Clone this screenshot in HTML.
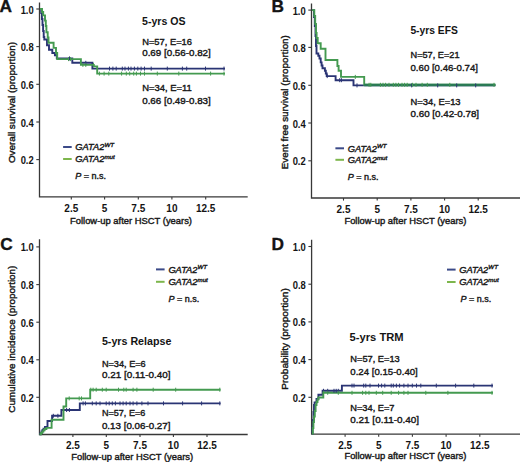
<!DOCTYPE html>
<html><head><meta charset="utf-8"><title>GATA2 survival curves</title>
<style>
html,body{margin:0;padding:0;background:#fff;width:520px;height:462px;overflow:hidden}
svg{display:block}
text{font-family:"Liberation Sans", sans-serif}
text.r{stroke:#1a1a1a;stroke-width:0.4px}
</style></head>
<body>
<svg width="520" height="462" viewBox="0 0 520 462">
<rect width="520" height="462" fill="#fff"/>
<text x="-0.6" y="12.3" font-size="17.3" font-weight="bold" font-style="normal" text-anchor="start" fill="#141414" stroke="#141414" stroke-width="0.35">A</text>
<path d="M39.5,2.4 V196.9 H247.7" fill="none" stroke="#383838" stroke-width="1.3"/>
<path d="M36.3,9.0 H39.5" stroke="#383838" stroke-width="1.1"/>
<text x="33.7" y="13.5" font-size="10.0" font-weight="bold" font-style="normal" text-anchor="end" fill="#141414" textLength="13.07" lengthAdjust="spacingAndGlyphs">1.0</text>
<path d="M36.3,46.6 H39.5" stroke="#383838" stroke-width="1.1"/>
<text x="33.7" y="51.1" font-size="10.0" font-weight="bold" font-style="normal" text-anchor="end" fill="#141414" textLength="13.07" lengthAdjust="spacingAndGlyphs">0.8</text>
<path d="M36.3,84.3 H39.5" stroke="#383838" stroke-width="1.1"/>
<text x="33.7" y="88.8" font-size="10.0" font-weight="bold" font-style="normal" text-anchor="end" fill="#141414" textLength="13.07" lengthAdjust="spacingAndGlyphs">0.6</text>
<path d="M36.3,122.0 H39.5" stroke="#383838" stroke-width="1.1"/>
<text x="33.7" y="126.5" font-size="10.0" font-weight="bold" font-style="normal" text-anchor="end" fill="#141414" textLength="13.07" lengthAdjust="spacingAndGlyphs">0.4</text>
<path d="M36.3,159.6 H39.5" stroke="#383838" stroke-width="1.1"/>
<text x="33.7" y="164.1" font-size="10.0" font-weight="bold" font-style="normal" text-anchor="end" fill="#141414" textLength="13.07" lengthAdjust="spacingAndGlyphs">0.2</text>
<path d="M71.3,196.9 V199.5" stroke="#383838" stroke-width="1.1"/>
<text x="71.3" y="212.0" font-size="10" font-weight="bold" font-style="normal" text-anchor="middle" fill="#141414">2.5</text>
<path d="M104.6,196.9 V199.5" stroke="#383838" stroke-width="1.1"/>
<text x="104.6" y="212.0" font-size="10" font-weight="bold" font-style="normal" text-anchor="middle" fill="#141414">5</text>
<path d="M138.3,196.9 V199.5" stroke="#383838" stroke-width="1.1"/>
<text x="138.3" y="212.0" font-size="10" font-weight="bold" font-style="normal" text-anchor="middle" fill="#141414">7.5</text>
<path d="M171.9,196.9 V199.5" stroke="#383838" stroke-width="1.1"/>
<text x="171.9" y="212.0" font-size="10" font-weight="bold" font-style="normal" text-anchor="middle" fill="#141414">10</text>
<path d="M205.7,196.9 V199.5" stroke="#383838" stroke-width="1.1"/>
<text x="205.7" y="212.0" font-size="10" font-weight="bold" font-style="normal" text-anchor="middle" fill="#141414">12.5</text>
<text class="r" x="70.0" y="223.6" font-size="9.4" font-weight="normal" font-style="normal" text-anchor="start" fill="#141414" textLength="122" lengthAdjust="spacingAndGlyphs">Follow-up after HSCT (years)</text>
<text class="r" transform="translate(14.9,102.6) rotate(-90)" x="0" y="0" font-size="9.8" text-anchor="middle" fill="#141414" textLength="121" lengthAdjust="spacingAndGlyphs">Overall survival (proportion)</text>
<path d="M40,9 H41.2 V13 H41.9 V19 H42.5 V25 H43.1 V31 H43.7 V37 H44.3 V39.5 H47 V45.3 H49 V49.8 H52.3 V53 H54.9 V55.2 H56.8 V58.4 H72.3 V62.8 H92.4 V68.6 H225" fill="none" stroke="#2a3474" stroke-width="1.9" stroke-linejoin="miter"/>
<path d="M40,9 H42 V12 H43.2 V15.4 H45 V20.6 H45.8 V26 H46.4 V32.3 H47.7 V37.5 H48.5 V42.7 H53.6 V47.9 H56 V53 H57.2 V59.1 H80.9 V64.9 H93.8 V66.4 H97.2 V73.6 H225" fill="none" stroke="#449a50" stroke-width="1.9" stroke-linejoin="miter"/>
<path d="M69.5,56.4V60.4 M85.8,60.8V64.8 M109.5,66.6V70.6 M112.9,66.6V70.6 M116.2,66.6V70.6 M122.3,66.6V70.6 M125,66.6V70.6 M128.4,66.6V70.6 M131,66.6V70.6 M134.4,66.6V70.6 M137.8,66.6V70.6 M141.1,66.6V70.6 M144.5,66.6V70.6 M151.2,66.6V70.6 M167.3,66.6V70.6 M182.4,66.6V70.6 M186.7,66.6V70.6 M205.5,66.6V70.6 M224,66.6V70.6" stroke="#2a3474" stroke-width="1.0"/>
<path d="M68.5,57.1V61.1 M70.4,57.1V61.1 M82.9,62.900000000000006V66.9 M85.8,62.900000000000006V66.9 M93.5,62.900000000000006V66.9 M99.4,71.6V75.6 M104.1,71.6V75.6 M108.8,71.6V75.6 M121.6,71.6V75.6 M126.3,71.6V75.6 M129.7,71.6V75.6 M133.7,71.6V75.6 M136.4,71.6V75.6 M140.5,71.6V75.6 M144.5,71.6V75.6 M157.3,71.6V75.6 M178.8,71.6V75.6 M210.6,71.6V75.6 M224,71.6V75.6" stroke="#449a50" stroke-width="1.0"/>
<text x="142.0" y="25.4" font-size="10.6" font-weight="bold" font-style="normal" text-anchor="start" fill="#141414" textLength="43.5" lengthAdjust="spacingAndGlyphs">5-yrs OS</text>
<text class="r" x="142.2" y="45.1" font-size="9.6" font-weight="normal" font-style="normal" text-anchor="start" fill="#141414" textLength="49.8" lengthAdjust="spacingAndGlyphs">N=57, E=16</text>
<text class="r" x="142.2" y="56.2" font-size="9.6" font-weight="normal" font-style="normal" text-anchor="start" fill="#141414" textLength="68.6" lengthAdjust="spacingAndGlyphs">0.69 [0.56-0.82]</text>
<text class="r" x="142.2" y="91.2" font-size="9.6" font-weight="normal" font-style="normal" text-anchor="start" fill="#141414" textLength="49.5" lengthAdjust="spacingAndGlyphs">N=34, E=11</text>
<text class="r" x="142.2" y="104.2" font-size="9.6" font-weight="normal" font-style="normal" text-anchor="start" fill="#141414" textLength="68.6" lengthAdjust="spacingAndGlyphs">0.66 [0.49-0.83]</text>
<path d="M63.1,147.0 h8.6" stroke="#3b4a88" stroke-width="2"/>
<path d="M63.1,159.0 h8.6" stroke="#7db64c" stroke-width="2"/>
<text class="r" x="75.3" y="150.3" font-size="9.3" font-style="italic" fill="#141414">GATA2<tspan font-size="6.2" dy="-3.6">WT</tspan></text>
<text class="r" x="75.3" y="162.3" font-size="9.3" font-style="italic" fill="#141414">GATA2<tspan font-size="6.2" dy="-3.6">mut</tspan></text>
<text class="r" x="75.3" y="178.9" font-size="9" fill="#141414"><tspan font-style="italic">P</tspan> = n.s.</text>
<text x="271.6" y="12.4" font-size="17.3" font-weight="bold" font-style="normal" text-anchor="start" fill="#141414" stroke="#141414" stroke-width="0.35">B</text>
<path d="M311.5,3.5 V198.0 H520" fill="none" stroke="#383838" stroke-width="1.3"/>
<path d="M308.3,10.1 H311.5" stroke="#383838" stroke-width="1.1"/>
<text x="305.7" y="14.6" font-size="10.0" font-weight="bold" font-style="normal" text-anchor="end" fill="#141414" textLength="13.07" lengthAdjust="spacingAndGlyphs">1.0</text>
<path d="M308.3,47.4 H311.5" stroke="#383838" stroke-width="1.1"/>
<text x="305.7" y="51.9" font-size="10.0" font-weight="bold" font-style="normal" text-anchor="end" fill="#141414" textLength="13.07" lengthAdjust="spacingAndGlyphs">0.8</text>
<path d="M308.3,85.3 H311.5" stroke="#383838" stroke-width="1.1"/>
<text x="305.7" y="89.8" font-size="10.0" font-weight="bold" font-style="normal" text-anchor="end" fill="#141414" textLength="13.07" lengthAdjust="spacingAndGlyphs">0.6</text>
<path d="M308.3,123.0 H311.5" stroke="#383838" stroke-width="1.1"/>
<text x="305.7" y="127.5" font-size="10.0" font-weight="bold" font-style="normal" text-anchor="end" fill="#141414" textLength="13.07" lengthAdjust="spacingAndGlyphs">0.4</text>
<path d="M308.3,160.8 H311.5" stroke="#383838" stroke-width="1.1"/>
<text x="305.7" y="165.3" font-size="10.0" font-weight="bold" font-style="normal" text-anchor="end" fill="#141414" textLength="13.07" lengthAdjust="spacingAndGlyphs">0.2</text>
<path d="M343.5,198.0 V200.6" stroke="#383838" stroke-width="1.1"/>
<text x="343.5" y="213.1" font-size="10" font-weight="bold" font-style="normal" text-anchor="middle" fill="#141414">2.5</text>
<path d="M377.2,198.0 V200.6" stroke="#383838" stroke-width="1.1"/>
<text x="377.2" y="213.1" font-size="10" font-weight="bold" font-style="normal" text-anchor="middle" fill="#141414">5</text>
<path d="M410.9,198.0 V200.6" stroke="#383838" stroke-width="1.1"/>
<text x="410.9" y="213.1" font-size="10" font-weight="bold" font-style="normal" text-anchor="middle" fill="#141414">7.5</text>
<path d="M444.6,198.0 V200.6" stroke="#383838" stroke-width="1.1"/>
<text x="444.6" y="213.1" font-size="10" font-weight="bold" font-style="normal" text-anchor="middle" fill="#141414">10</text>
<path d="M478.2,198.0 V200.6" stroke="#383838" stroke-width="1.1"/>
<text x="478.2" y="213.1" font-size="10" font-weight="bold" font-style="normal" text-anchor="middle" fill="#141414">12.5</text>
<text class="r" x="344.4" y="224.3" font-size="9.4" font-weight="normal" font-style="normal" text-anchor="start" fill="#141414" textLength="122" lengthAdjust="spacingAndGlyphs">Follow-up after HSCT (years)</text>
<text class="r" transform="translate(288.2,102.2) rotate(-90)" x="0" y="0" font-size="9.8" text-anchor="middle" fill="#141414" textLength="134" lengthAdjust="spacingAndGlyphs">Event free survival (proportion)</text>
<path d="M312,10.1 H314 V17 H314.8 V26 H315.5 V36 H316 V46 H316.5 V53.5 H318.3 V55.8 H319.5 V58.5 H320.7 V62.4 H321.6 V65.5 H322.5 V68.3 H324.9 V70.7 H325.8 V73.5 H326.7 V76.1 H335.6 V80.2 H353.5 V85.4 H495.4" fill="none" stroke="#2a3474" stroke-width="1.9" stroke-linejoin="miter"/>
<path d="M312,10.1 H314.3 V16 H315.2 V24 H316 V33 H316.6 V38 H317.7 V43.3 H320.7 V48.7 H325.5 V60 H337.4 V66 H338.6 V70.7 H341 V76.9 H364.2 V84.8 H495.4" fill="none" stroke="#449a50" stroke-width="1.9" stroke-linejoin="miter"/>
<path d="M364.2,84.95 H495.4" stroke="#2a7a55" stroke-width="2.4" fill="none"/>
<path d="M327.2,74.1V78.1 M339.7,78.2V82.2 M341.4,78.2V82.2 M357,83.4V87.4 M411.7,83.4V87.4 M437.7,83.4V87.4 M456.7,83.4V87.4 M475.7,83.4V87.4" stroke="#2a3474" stroke-width="1.0"/>
<path d="M355.3,74.9V78.9 M369.1,82.8V86.8 M370.8,82.8V86.8 M380.4,82.8V86.8 M383,82.8V86.8 M385.6,82.8V86.8 M389,82.8V86.8 M393.3,82.8V86.8 M395.9,82.8V86.8 M398.5,82.8V86.8 M402,82.8V86.8 M404.6,82.8V86.8 M407.2,82.8V86.8 M412.4,82.8V86.8 M416,82.8V86.8 M422.1,82.8V86.8 M427.3,82.8V86.8 M449.8,82.8V86.8 M494,82.8V86.8" stroke="#449a50" stroke-width="1.0"/>
<text x="410.4" y="34.0" font-size="10.6" font-weight="bold" font-style="normal" text-anchor="start" fill="#141414" textLength="47.5" lengthAdjust="spacingAndGlyphs">5-yrs EFS</text>
<text class="r" x="410.5" y="57.8" font-size="9.6" font-weight="normal" font-style="normal" text-anchor="start" fill="#141414" textLength="49.0" lengthAdjust="spacingAndGlyphs">N=57, E=21</text>
<text class="r" x="410.5" y="71.0" font-size="9.6" font-weight="normal" font-style="normal" text-anchor="start" fill="#141414" textLength="67.5" lengthAdjust="spacingAndGlyphs">0.60 [0.46-0.74]</text>
<text class="r" x="410.6" y="105.0" font-size="9.6" font-weight="normal" font-style="normal" text-anchor="start" fill="#141414" textLength="50.0" lengthAdjust="spacingAndGlyphs">N=34, E=13</text>
<text class="r" x="410.6" y="117.2" font-size="9.6" font-weight="normal" font-style="normal" text-anchor="start" fill="#141414" textLength="68.5" lengthAdjust="spacingAndGlyphs">0.60 [0.42-0.78]</text>
<path d="M335.4,148.3 h8.6" stroke="#3b4a88" stroke-width="2"/>
<path d="M335.4,159.8 h8.6" stroke="#7db64c" stroke-width="2"/>
<text class="r" x="347.8" y="151.60000000000002" font-size="9.3" font-style="italic" fill="#141414">GATA2<tspan font-size="6.2" dy="-3.6">WT</tspan></text>
<text class="r" x="347.8" y="163.10000000000002" font-size="9.3" font-style="italic" fill="#141414">GATA2<tspan font-size="6.2" dy="-3.6">mut</tspan></text>
<text class="r" x="347.8" y="180.4" font-size="9" fill="#141414"><tspan font-style="italic">P</tspan> = n.s.</text>
<text x="0.3" y="250.0" font-size="17.3" font-weight="bold" font-style="normal" text-anchor="start" fill="#141414" stroke="#141414" stroke-width="0.35">C</text>
<path d="M39.5,239.2 V434.5 H247.7" fill="none" stroke="#383838" stroke-width="1.3"/>
<path d="M36.3,246.9 H39.5" stroke="#383838" stroke-width="1.1"/>
<text x="33.7" y="251.4" font-size="10.0" font-weight="bold" font-style="normal" text-anchor="end" fill="#141414" textLength="13.07" lengthAdjust="spacingAndGlyphs">1.0</text>
<path d="M36.3,284.6 H39.5" stroke="#383838" stroke-width="1.1"/>
<text x="33.7" y="289.1" font-size="10.0" font-weight="bold" font-style="normal" text-anchor="end" fill="#141414" textLength="13.07" lengthAdjust="spacingAndGlyphs">0.8</text>
<path d="M36.3,322.2 H39.5" stroke="#383838" stroke-width="1.1"/>
<text x="33.7" y="326.7" font-size="10.0" font-weight="bold" font-style="normal" text-anchor="end" fill="#141414" textLength="13.07" lengthAdjust="spacingAndGlyphs">0.6</text>
<path d="M36.3,359.8 H39.5" stroke="#383838" stroke-width="1.1"/>
<text x="33.7" y="364.3" font-size="10.0" font-weight="bold" font-style="normal" text-anchor="end" fill="#141414" textLength="13.07" lengthAdjust="spacingAndGlyphs">0.4</text>
<path d="M36.3,397.3 H39.5" stroke="#383838" stroke-width="1.1"/>
<text x="33.7" y="401.8" font-size="10.0" font-weight="bold" font-style="normal" text-anchor="end" fill="#141414" textLength="13.07" lengthAdjust="spacingAndGlyphs">0.2</text>
<path d="M72.9,434.5 V437.1" stroke="#383838" stroke-width="1.1"/>
<text x="72.9" y="449.1" font-size="10" font-weight="bold" font-style="normal" text-anchor="middle" fill="#141414">2.5</text>
<path d="M106.3,434.5 V437.1" stroke="#383838" stroke-width="1.1"/>
<text x="106.3" y="449.1" font-size="10" font-weight="bold" font-style="normal" text-anchor="middle" fill="#141414">5</text>
<path d="M140.0,434.5 V437.1" stroke="#383838" stroke-width="1.1"/>
<text x="140.0" y="449.1" font-size="10" font-weight="bold" font-style="normal" text-anchor="middle" fill="#141414">7.5</text>
<path d="M173.4,434.5 V437.1" stroke="#383838" stroke-width="1.1"/>
<text x="173.4" y="449.1" font-size="10" font-weight="bold" font-style="normal" text-anchor="middle" fill="#141414">10</text>
<path d="M207.0,434.5 V437.1" stroke="#383838" stroke-width="1.1"/>
<text x="207.0" y="449.1" font-size="10" font-weight="bold" font-style="normal" text-anchor="middle" fill="#141414">12.5</text>
<text class="r" x="71.2" y="460.2" font-size="9.4" font-weight="normal" font-style="normal" text-anchor="start" fill="#141414" textLength="122" lengthAdjust="spacingAndGlyphs">Follow-up after HSCT (years)</text>
<text class="r" transform="translate(15.2,339.2) rotate(-90)" x="0" y="0" font-size="9.8" text-anchor="middle" fill="#141414" textLength="147" lengthAdjust="spacingAndGlyphs">Cumulative incidence (proportion)</text>
<path d="M39.5,434.3 H40.5 V433 H41.5 V431.5 H42.5 V430 H43.5 V428.6 H45 V427 H47.5 V421 H52.1 V415.8 H61.4 V410 H79.8 V403.4 H220.6" fill="none" stroke="#2a3474" stroke-width="1.9" stroke-linejoin="miter"/>
<path d="M39.5,434.3 H41 V433 H42.2 V431.6 H43.4 V430.2 H44.6 V429 H46.4 V427.9 H51.6 V419.8 H63.5 V406.5 H66.2 V398.4 H90.2 V389.7 H220.6" fill="none" stroke="#449a50" stroke-width="1.9" stroke-linejoin="miter"/>
<path d="M53.3,413.8V417.8 M57.9,413.8V417.8 M66.6,408.0V412.0 M69.4,408.0V412.0 M83.1,401.4V405.4 M85.4,401.4V405.4 M92.3,401.4V405.4 M96.2,401.4V405.4 M100,401.4V405.4 M106.2,401.4V405.4 M109.2,401.4V405.4 M112.3,401.4V405.4 M115.4,401.4V405.4 M120,401.4V405.4 M123.1,401.4V405.4 M126.2,401.4V405.4 M130,401.4V405.4 M133.1,401.4V405.4 M136.9,401.4V405.4 M141.9,401.4V405.4 M148,401.4V405.4 M163.5,401.4V405.4 M182.6,401.4V405.4 M201.6,401.4V405.4 M219.8,401.4V405.4" stroke="#2a3474" stroke-width="1.0"/>
<path d="M69.2,396.4V400.4 M79.2,396.4V400.4 M81.5,396.4V400.4 M90.8,387.7V391.7 M93.1,387.7V391.7 M96.2,387.7V391.7 M102.3,387.7V391.7 M106.2,387.7V391.7 M118.5,387.7V391.7 M123.8,387.7V391.7 M126.2,387.7V391.7 M133.1,387.7V391.7 M136.9,387.7V391.7 M153.2,387.7V391.7 M175.7,387.7V391.7 M219.8,387.7V391.7" stroke="#449a50" stroke-width="1.0"/>
<text x="101.9" y="345.2" font-size="10.6" font-weight="bold" font-style="normal" text-anchor="start" fill="#141414" textLength="69.5" lengthAdjust="spacingAndGlyphs">5-yrs Relapse</text>
<text class="r" x="101.9" y="367.2" font-size="9.6" font-weight="normal" font-style="normal" text-anchor="start" fill="#141414" textLength="43.8" lengthAdjust="spacingAndGlyphs">N=34, E=6</text>
<text class="r" x="101.9" y="377.6" font-size="9.6" font-weight="normal" font-style="normal" text-anchor="start" fill="#141414" textLength="68.6" lengthAdjust="spacingAndGlyphs">0.21 [0.11-0.40]</text>
<text class="r" x="101.9" y="416.2" font-size="9.6" font-weight="normal" font-style="normal" text-anchor="start" fill="#141414" textLength="43.4" lengthAdjust="spacingAndGlyphs">N=57, E=6</text>
<text class="r" x="101.9" y="429.2" font-size="9.6" font-weight="normal" font-style="normal" text-anchor="start" fill="#141414" textLength="68.6" lengthAdjust="spacingAndGlyphs">0.13 [0.06-0.27]</text>
<path d="M156.0,269.4 h8.6" stroke="#3b4a88" stroke-width="2"/>
<path d="M156.0,281.8 h8.6" stroke="#7db64c" stroke-width="2"/>
<text class="r" x="168.4" y="272.7" font-size="9.3" font-style="italic" fill="#141414">GATA2<tspan font-size="6.2" dy="-3.6">WT</tspan></text>
<text class="r" x="168.4" y="285.1" font-size="9.3" font-style="italic" fill="#141414">GATA2<tspan font-size="6.2" dy="-3.6">mut</tspan></text>
<text class="r" x="168.4" y="301.5" font-size="9" fill="#141414"><tspan font-style="italic">P</tspan> = n.s.</text>
<text x="271.4" y="249.6" font-size="17.3" font-weight="bold" font-style="normal" text-anchor="start" fill="#141414" stroke="#141414" stroke-width="0.35">D</text>
<path d="M311.6,239.7 V434.2 H520" fill="none" stroke="#383838" stroke-width="1.3"/>
<path d="M308.40000000000003,246.5 H311.6" stroke="#383838" stroke-width="1.1"/>
<text x="305.8" y="251.0" font-size="10.0" font-weight="bold" font-style="normal" text-anchor="end" fill="#141414" textLength="13.07" lengthAdjust="spacingAndGlyphs">1.0</text>
<path d="M308.40000000000003,284.2 H311.6" stroke="#383838" stroke-width="1.1"/>
<text x="305.8" y="288.7" font-size="10.0" font-weight="bold" font-style="normal" text-anchor="end" fill="#141414" textLength="13.07" lengthAdjust="spacingAndGlyphs">0.8</text>
<path d="M308.40000000000003,321.9 H311.6" stroke="#383838" stroke-width="1.1"/>
<text x="305.8" y="326.4" font-size="10.0" font-weight="bold" font-style="normal" text-anchor="end" fill="#141414" textLength="13.07" lengthAdjust="spacingAndGlyphs">0.6</text>
<path d="M308.40000000000003,359.6 H311.6" stroke="#383838" stroke-width="1.1"/>
<text x="305.8" y="364.1" font-size="10.0" font-weight="bold" font-style="normal" text-anchor="end" fill="#141414" textLength="13.07" lengthAdjust="spacingAndGlyphs">0.4</text>
<path d="M308.40000000000003,397.3 H311.6" stroke="#383838" stroke-width="1.1"/>
<text x="305.8" y="401.8" font-size="10.0" font-weight="bold" font-style="normal" text-anchor="end" fill="#141414" textLength="13.07" lengthAdjust="spacingAndGlyphs">0.2</text>
<path d="M345.1,434.2 V436.8" stroke="#383838" stroke-width="1.1"/>
<text x="345.1" y="449.1" font-size="10" font-weight="bold" font-style="normal" text-anchor="middle" fill="#141414">2.5</text>
<path d="M378.7,434.2 V436.8" stroke="#383838" stroke-width="1.1"/>
<text x="378.7" y="449.1" font-size="10" font-weight="bold" font-style="normal" text-anchor="middle" fill="#141414">5</text>
<path d="M412.4,434.2 V436.8" stroke="#383838" stroke-width="1.1"/>
<text x="412.4" y="449.1" font-size="10" font-weight="bold" font-style="normal" text-anchor="middle" fill="#141414">7.5</text>
<path d="M446.1,434.2 V436.8" stroke="#383838" stroke-width="1.1"/>
<text x="446.1" y="449.1" font-size="10" font-weight="bold" font-style="normal" text-anchor="middle" fill="#141414">10</text>
<path d="M479.8,434.2 V436.8" stroke="#383838" stroke-width="1.1"/>
<text x="479.8" y="449.1" font-size="10" font-weight="bold" font-style="normal" text-anchor="middle" fill="#141414">12.5</text>
<text class="r" x="344.4" y="459.2" font-size="9.4" font-weight="normal" font-style="normal" text-anchor="start" fill="#141414" textLength="122" lengthAdjust="spacingAndGlyphs">Follow-up after HSCT (years)</text>
<text class="r" transform="translate(287.8,339.0) rotate(-90)" x="0" y="0" font-size="9.8" text-anchor="middle" fill="#141414" textLength="101.5" lengthAdjust="spacingAndGlyphs">Probability (proportion)</text>
<path d="M312,433.5 H312.5 V427 H313 V420 H313.5 V412 H314 V405 H314.6 V402.4 H316.5 V399 H318.4 V394.7 H322.6 V390.8 H341.9 V385.6 H493" fill="none" stroke="#2a3474" stroke-width="1.9" stroke-linejoin="miter"/>
<path d="M312,433.5 H312.8 V428 H313.4 V422 H314 V416.5 H314.8 V411 H315.6 V405 H316.5 V402 H317.5 V399.6 H318.3 V397.5 H323.3 V392.8 H493" fill="none" stroke="#449a50" stroke-width="1.9" stroke-linejoin="miter"/>
<path d="M323.5,388.8V392.8 M327.7,388.8V392.8 M334,388.8V392.8 M336.2,388.8V392.8 M338.3,388.8V392.8 M352,383.6V387.6 M354,383.6V387.6 M363.7,383.6V387.6 M365.8,383.6V387.6 M370,383.6V387.6 M378.5,383.6V387.6 M381.6,383.6V387.6 M384.8,383.6V387.6 M391.2,383.6V387.6 M393.3,383.6V387.6 M396.4,383.6V387.6 M399.6,383.6V387.6 M403.9,383.6V387.6 M408,383.6V387.6 M412.3,383.6V387.6 M416.5,383.6V387.6 M420.8,383.6V387.6 M436.3,383.6V387.6 M455.6,383.6V387.6 M473.8,383.6V387.6 M492,383.6V387.6" stroke="#2a3474" stroke-width="1.0"/>
<path d="M323.5,390.8V394.8 M327.7,390.8V394.8 M338.3,390.8V394.8 M352,390.8V394.8 M362.6,390.8V394.8 M365.8,390.8V394.8 M369,390.8V394.8 M376.3,390.8V394.8 M382.7,390.8V394.8 M391.2,390.8V394.8 M398.6,390.8V394.8 M403.9,390.8V394.8 M408,390.8V394.8 M425.8,390.8V394.8 M447.9,390.8V394.8 M492,390.8V394.8" stroke="#449a50" stroke-width="1.0"/>
<text x="349.6" y="341.0" font-size="10.6" font-weight="bold" font-style="normal" text-anchor="start" fill="#141414" textLength="54" lengthAdjust="spacingAndGlyphs">5-yrs TRM</text>
<text class="r" x="350.3" y="361.6" font-size="9.6" font-weight="normal" font-style="normal" text-anchor="start" fill="#141414" textLength="49.4" lengthAdjust="spacingAndGlyphs">N=57, E=13</text>
<text class="r" x="350.3" y="374.5" font-size="9.6" font-weight="normal" font-style="normal" text-anchor="start" fill="#141414" textLength="67.5" lengthAdjust="spacingAndGlyphs">0.24 [0.15-0.40]</text>
<text class="r" x="350.3" y="410.8" font-size="9.6" font-weight="normal" font-style="normal" text-anchor="start" fill="#141414" textLength="44.2" lengthAdjust="spacingAndGlyphs">N=34, E=7</text>
<text class="r" x="350.3" y="422.9" font-size="9.6" font-weight="normal" font-style="normal" text-anchor="start" fill="#141414" textLength="68.8" lengthAdjust="spacingAndGlyphs">0.21 [0.11-0.40]</text>
<path d="M447.0,269.6 h8.6" stroke="#3b4a88" stroke-width="2"/>
<path d="M447.0,282.0 h8.6" stroke="#7db64c" stroke-width="2"/>
<text class="r" x="459.2" y="272.90000000000003" font-size="9.3" font-style="italic" fill="#141414">GATA2<tspan font-size="6.2" dy="-3.6">WT</tspan></text>
<text class="r" x="459.2" y="285.3" font-size="9.3" font-style="italic" fill="#141414">GATA2<tspan font-size="6.2" dy="-3.6">mut</tspan></text>
<text class="r" x="460.6" y="301.5" font-size="9" fill="#141414"><tspan font-style="italic">P</tspan> = n.s.</text>
</svg>
</body></html>
